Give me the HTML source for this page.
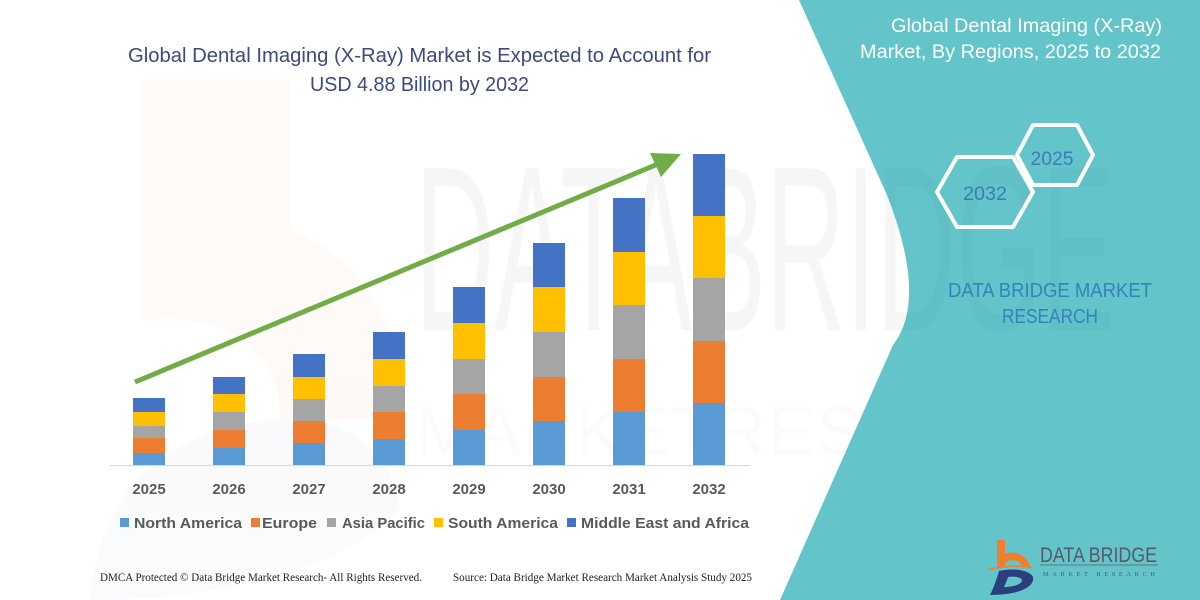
<!DOCTYPE html>
<html>
<head>
<meta charset="utf-8">
<style>
  html,body{margin:0;padding:0;background:#fff;}
  svg{display:block;}
  text{font-family:"Liberation Sans",sans-serif;}
  .serif{font-family:"Liberation Serif",serif;}
</style>
</head>
<body>
<svg width="1200" height="600" viewBox="0 0 1200 600" xmlns="http://www.w3.org/2000/svg">
  <rect width="1200" height="600" fill="#ffffff"/>

  <!-- faint watermark: big "b" logo -->
  <g opacity="0.35">
    <path d="M140,80 h150 v150 c60,20 120,90 110,190 h-120 c0,-60 -40,-110 -140,-100 z" fill="#fdf0e8"/>
    <path d="M90,600 c10,-120 90,-180 200,-180 c60,0 100,30 110,90 c-60,60 -180,90 -310,90 z" fill="#f1f3f7"/>
  </g>
  <!-- faint watermark text -->
  <text x="415" y="330" font-size="235" fill="#000" opacity="0.015" textLength="700" lengthAdjust="spacingAndGlyphs">DATABRIDGE</text>
  <text x="415" y="455" font-size="70" fill="#000" opacity="0.012" textLength="700" lengthAdjust="spacing">MARKETRESEARCH</text>

  <!-- teal panel -->
  <path d="M799,0 L887,195 Q928,300 893,345 L780,600 L1200,600 L1200,0 Z" fill="#63c4ca"/>
  <text x="415" y="330" font-size="235" fill="#000" opacity="0.012" textLength="700" lengthAdjust="spacingAndGlyphs">DATABRIDGE</text>

  <!-- left title -->
  <text x="128" y="62" font-size="20" fill="#3a4b7c" textLength="583" lengthAdjust="spacingAndGlyphs">Global Dental Imaging (X-Ray) Market is Expected to Account for</text>
  <text x="310" y="91" font-size="20" fill="#3a4b7c" textLength="219" lengthAdjust="spacingAndGlyphs">USD 4.88 Billion by 2032</text>

  <!-- axis -->
  <line x1="110" y1="465.5" x2="750" y2="465.5" stroke="#d9d9d9" stroke-width="1"/>

  <!-- bars -->
  <g>
    <rect x="133" y="398" width="32" height="14" fill="#4472C4"/>
    <rect x="133" y="412" width="32" height="14" fill="#FFC000"/>
    <rect x="133" y="426" width="32" height="12" fill="#A5A5A5"/>
    <rect x="133" y="438" width="32" height="15" fill="#ED7D31"/>
    <rect x="133" y="453" width="32" height="12" fill="#5B9BD5"/>

    <rect x="213" y="377" width="32" height="17" fill="#4472C4"/>
    <rect x="213" y="394" width="32" height="18" fill="#FFC000"/>
    <rect x="213" y="412" width="32" height="18" fill="#A5A5A5"/>
    <rect x="213" y="430" width="32" height="18" fill="#ED7D31"/>
    <rect x="213" y="448" width="32" height="17" fill="#5B9BD5"/>

    <rect x="293" y="354" width="32" height="23" fill="#4472C4"/>
    <rect x="293" y="377" width="32" height="22" fill="#FFC000"/>
    <rect x="293" y="399" width="32" height="22" fill="#A5A5A5"/>
    <rect x="293" y="421" width="32" height="22" fill="#ED7D31"/>
    <rect x="293" y="443" width="32" height="22" fill="#5B9BD5"/>

    <rect x="373" y="332" width="32" height="27" fill="#4472C4"/>
    <rect x="373" y="359" width="32" height="27" fill="#FFC000"/>
    <rect x="373" y="386" width="32" height="26" fill="#A5A5A5"/>
    <rect x="373" y="412" width="32" height="27" fill="#ED7D31"/>
    <rect x="373" y="439" width="32" height="26" fill="#5B9BD5"/>

    <rect x="453" y="287" width="32" height="36" fill="#4472C4"/>
    <rect x="453" y="323" width="32" height="36" fill="#FFC000"/>
    <rect x="453" y="359" width="32" height="35" fill="#A5A5A5"/>
    <rect x="453" y="394" width="32" height="36" fill="#ED7D31"/>
    <rect x="453" y="430" width="32" height="35" fill="#5B9BD5"/>

    <rect x="533" y="243" width="32" height="44" fill="#4472C4"/>
    <rect x="533" y="287" width="32" height="45" fill="#FFC000"/>
    <rect x="533" y="332" width="32" height="45" fill="#A5A5A5"/>
    <rect x="533" y="377" width="32" height="44" fill="#ED7D31"/>
    <rect x="533" y="421" width="32" height="44" fill="#5B9BD5"/>

    <rect x="613" y="198" width="32" height="54" fill="#4472C4"/>
    <rect x="613" y="252" width="32" height="53" fill="#FFC000"/>
    <rect x="613" y="305" width="32" height="54" fill="#A5A5A5"/>
    <rect x="613" y="359" width="32" height="53" fill="#ED7D31"/>
    <rect x="613" y="412" width="32" height="53" fill="#5B9BD5"/>

    <rect x="693" y="154" width="32" height="62" fill="#4472C4"/>
    <rect x="693" y="216" width="32" height="62" fill="#FFC000"/>
    <rect x="693" y="278" width="32" height="63" fill="#A5A5A5"/>
    <rect x="693" y="341" width="32" height="62" fill="#ED7D31"/>
    <rect x="693" y="403" width="32" height="62" fill="#5B9BD5"/>
  </g>

  <!-- green arrow -->
  <line x1="135" y1="382" x2="658" y2="164" stroke="#70AD47" stroke-width="5"/>
  <polygon points="681,154 650,153 661,177" fill="#70AD47"/>

  <!-- year labels -->
  <g font-size="15" font-weight="bold" fill="#595959" text-anchor="middle">
    <text x="149" y="494">2025</text>
    <text x="229" y="494">2026</text>
    <text x="309" y="494">2027</text>
    <text x="389" y="494">2028</text>
    <text x="469" y="494">2029</text>
    <text x="549" y="494">2030</text>
    <text x="629" y="494">2031</text>
    <text x="709" y="494">2032</text>
  </g>

  <!-- legend -->
  <g font-size="15" font-weight="bold" fill="#595959">
    <rect x="120" y="518" width="9" height="9" fill="#5B9BD5"/>
    <text x="134" y="528" textLength="108" lengthAdjust="spacingAndGlyphs">North America</text>
    <rect x="251" y="518" width="9" height="9" fill="#ED7D31"/>
    <text x="262" y="528" textLength="55" lengthAdjust="spacingAndGlyphs">Europe</text>
    <rect x="327" y="518" width="9" height="9" fill="#A5A5A5"/>
    <text x="342" y="528" textLength="83" lengthAdjust="spacingAndGlyphs">Asia Pacific</text>
    <rect x="434" y="518" width="9" height="9" fill="#FFC000"/>
    <text x="448" y="528" textLength="110" lengthAdjust="spacingAndGlyphs">South America</text>
    <rect x="567" y="518" width="9" height="9" fill="#4472C4"/>
    <text x="581" y="528" textLength="168" lengthAdjust="spacingAndGlyphs">Middle East and Africa</text>
  </g>

  <!-- footer -->
  <text class="serif" x="100" y="581" font-size="11.5" fill="#222" textLength="322" lengthAdjust="spacingAndGlyphs">DMCA Protected © Data Bridge Market Research-  All Rights Reserved.</text>
  <text class="serif" x="453" y="581" font-size="11.5" fill="#222" textLength="299" lengthAdjust="spacingAndGlyphs">Source:  Data Bridge Market Research  Market Analysis Study 2025</text>

  <!-- right panel title -->
  <text x="891" y="32" font-size="19.5" fill="#ffffff" textLength="271" lengthAdjust="spacingAndGlyphs">Global Dental Imaging (X-Ray)</text>
  <text x="860" y="58" font-size="19.5" fill="#ffffff" textLength="301" lengthAdjust="spacingAndGlyphs">Market, By Regions, 2025 to 2032</text>

  <!-- hexagons -->
  <g fill="none" stroke="#ffffff" stroke-width="4" stroke-linejoin="round">
    <polygon points="1017,155 1033,125 1077,125 1093,155 1077,185 1033,185"/>
    <polygon points="937,192 957,157 1013,157 1033,192 1013,227 957,227"/>
  </g>
  <text x="1052" y="165" font-size="19" fill="#3a7db8" text-anchor="middle" textLength="43" lengthAdjust="spacingAndGlyphs">2025</text>
  <text x="985" y="200" font-size="19" fill="#3a7db8" text-anchor="middle" textLength="44" lengthAdjust="spacingAndGlyphs">2032</text>

  <!-- DBMR text -->
  <text x="948" y="297" font-size="20" fill="#3583bc" textLength="204" lengthAdjust="spacingAndGlyphs">DATA BRIDGE MARKET</text>
  <text x="1002" y="323" font-size="20" fill="#3583bc" textLength="96" lengthAdjust="spacingAndGlyphs">RESEARCH</text>

  <!-- logo -->
  <path d="M997,540 h8 v14 c10,-4 23,1 25,13 h-8 c-2,-7 -11,-9 -17,-4 v4 h-8 z" fill="#f07e2c"/>
  <path d="M988,570 c12,-4 32,-5 45,-2" stroke="#f07e2c" stroke-width="1.5" fill="none"/>
  <path d="M990,595 c4,-8 7,-17 9,-24 c12,-3 30,-2 34,6 c2,10 -14,18 -43,18 z" fill="#2b3f7f"/>
  <path d="M1004,587 c2,-4 3,-7 4,-10 c6,-1 13,0 14,3 c0,4 -8,7 -18,7 z" fill="#63c4ca"/>
  <text x="1040" y="562" font-size="21" fill="#55596a" textLength="117" lengthAdjust="spacingAndGlyphs">DATA BRIDGE</text>
  <line x1="1040" y1="565" x2="1158" y2="565" stroke="#6b7080" stroke-width="1"/>
  <text class="serif" x="1043" y="576" font-size="6.5" fill="#55596a" textLength="112" lengthAdjust="spacing">MARKET RESEARCH</text>
</svg>
</body>
</html>
